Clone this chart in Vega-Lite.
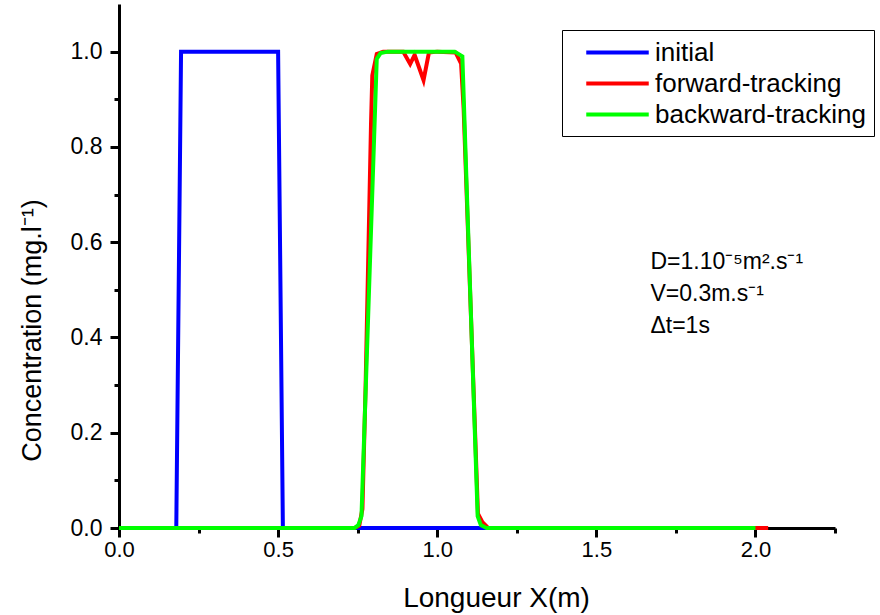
{
  "$schema": "https://vega.github.io/schema/vega-lite/v6.json",
  "width": 716,
  "height": 524,
  "autosize": {"type": "none"},
  "padding": {"left": 119, "top": 4, "right": 45, "bottom": 87},
  "background": "white",
  "config": {
    "view": {"stroke": null},
    "font": "Liberation Sans",
    "axis": {
      "domainColor": "black", "domainWidth": 3, "tickColor": "black", "tickWidth": 3,
      "labelColor": "black", "titleColor": "black", "labelFont": "Liberation Sans", "titleFont": "Liberation Sans",
      "titleFontWeight": "normal", "grid": false, "labelFlush": false
    }
  },
  "datasets": {
    "curves": [
      {"x": 0.0, "c": 0, "series": "initial"},
      {"x": 0.18, "c": 0, "series": "initial"},
      {"x": 0.195, "c": 1, "series": "initial"},
      {"x": 0.5, "c": 1, "series": "initial"},
      {"x": 0.515, "c": 0, "series": "initial"},
      {"x": 2.0, "c": 0, "series": "initial"},
      {"x": 0.0, "c": 0, "series": "forward-tracking"},
      {"x": 0.74, "c": 0, "series": "forward-tracking"},
      {"x": 0.755, "c": 0.005, "series": "forward-tracking"},
      {"x": 0.765, "c": 0.04, "series": "forward-tracking"},
      {"x": 0.775, "c": 0.3, "series": "forward-tracking"},
      {"x": 0.792, "c": 0.85, "series": "forward-tracking"},
      {"x": 0.796, "c": 0.95, "series": "forward-tracking"},
      {"x": 0.81, "c": 0.995, "series": "forward-tracking"},
      {"x": 0.83, "c": 1.0, "series": "forward-tracking"},
      {"x": 0.893, "c": 1.0, "series": "forward-tracking"},
      {"x": 0.915, "c": 0.974, "series": "forward-tracking"},
      {"x": 0.929, "c": 0.993, "series": "forward-tracking"},
      {"x": 0.957, "c": 0.94, "series": "forward-tracking"},
      {"x": 0.974, "c": 0.998, "series": "forward-tracking"},
      {"x": 1.0, "c": 1.0, "series": "forward-tracking"},
      {"x": 1.058, "c": 0.998, "series": "forward-tracking"},
      {"x": 1.075, "c": 0.975, "series": "forward-tracking"},
      {"x": 1.083, "c": 0.88, "series": "forward-tracking"},
      {"x": 1.128, "c": 0.03, "series": "forward-tracking"},
      {"x": 1.142, "c": 0.012, "series": "forward-tracking"},
      {"x": 1.16, "c": 0.0, "series": "forward-tracking"},
      {"x": 2.04, "c": 0.0, "series": "forward-tracking"},
      {"x": 0.0, "c": 0, "series": "backward-tracking"},
      {"x": 0.74, "c": 0, "series": "backward-tracking"},
      {"x": 0.752, "c": 0.006, "series": "backward-tracking"},
      {"x": 0.762, "c": 0.025, "series": "backward-tracking"},
      {"x": 0.81, "c": 0.985, "series": "backward-tracking"},
      {"x": 0.822, "c": 0.997, "series": "backward-tracking"},
      {"x": 0.845, "c": 1.0, "series": "backward-tracking"},
      {"x": 1.055, "c": 1.0, "series": "backward-tracking"},
      {"x": 1.079, "c": 0.99, "series": "backward-tracking"},
      {"x": 1.127, "c": 0.025, "series": "backward-tracking"},
      {"x": 1.137, "c": 0.006, "series": "backward-tracking"},
      {"x": 1.155, "c": 0.0, "series": "backward-tracking"},
      {"x": 2.0, "c": 0.0, "series": "backward-tracking"}
    ],
    "notes": [
      {"x": 1.67, "c": 0.558, "label": "D=1.10⁻⁵m².s⁻¹"},
      {"x": 1.67, "c": 0.491, "label": "V=0.3m.s⁻¹"},
      {"x": 1.67, "c": 0.424, "label": "Δt=1s"}
    ]
  },
  "layer": [
    {
      "data": {"name": "curves"},
      "mark": {"type": "line", "strokeWidth": 4, "clip": false},
      "encoding": {
        "x": {
          "field": "x", "type": "quantitative",
          "scale": {"domain": [0, 2.25], "nice": false, "zero": false},
          "axis": {
            "title": "Longueur X(m)", "titleFontSize": 28, "titleX": 377, "titleY": 70, "titleBaseline": "middle",
            "values": [0, 0.25, 0.5, 0.75, 1.0, 1.25, 1.5, 1.75, 2.0, 2.25],
            "labelExpr": "round(datum.value*4)%2==0 ? format(datum.value, '.1f') : ''",
            "tickSize": {"condition": {"test": "round(datum.value*4)%2==0", "value": 9}, "value": 5},
            "labelFontSize": 22, "labelPadding": 2
          }
        },
        "y": {
          "field": "c", "type": "quantitative",
          "scale": {"domain": [0, 1.1], "nice": false},
          "axis": {
            "title": "Concentration (mg.l⁻¹)", "titleFontSize": 27, "titleX": -87, "titleY": 326,
            "titleAngle": -90, "titleBaseline": "middle", "titleAlign": "center",
            "values": [0, 0.1, 0.2, 0.3, 0.4, 0.5, 0.6, 0.7, 0.8, 0.9, 1.0],
            "labelExpr": "round(datum.value*10)%2==0 ? format(datum.value, '.1f') : ''",
            "tickSize": {"condition": {"test": "round(datum.value*10)%2==0", "value": 9}, "value": 5},
            "labelFontSize": 23, "labelPadding": 8
          }
        },
        "color": {
          "field": "series", "type": "nominal",
          "scale": {"domain": ["initial", "forward-tracking", "backward-tracking"], "range": ["#0000FF", "#FF0000", "#00FF00"]},
          "legend": {
            "title": null, "orient": "none", "legendX": 443, "legendY": 26,
            "symbolType": "M-2.5,0H2.5", "symbolSize": 625, "symbolStrokeWidth": 4,
            "labelFontSize": 26, "labelColor": "black", "labelFont": "Liberation Sans", "labelOffset": 23,
            "labelLimit": 500,
            "strokeColor": "black", "padding": 8, "symbolOffset": 33, "rowPadding": 3
          }
        }
      }
    },
    {
      "data": {"name": "notes"},
      "mark": {"type": "text", "align": "left", "baseline": "middle", "fontSize": 23, "font": "Liberation Sans", "color": "black"},
      "encoding": {
        "x": {"field": "x", "type": "quantitative"},
        "y": {"field": "c", "type": "quantitative"},
        "text": {"field": "label"}
      }
    }
  ]
}
